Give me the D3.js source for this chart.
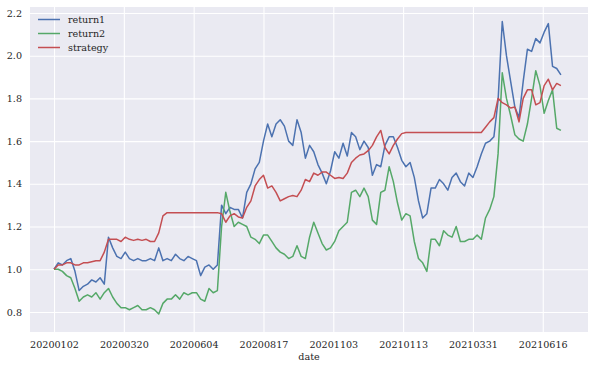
<!DOCTYPE html>
<html>
<head>
<meta charset="utf-8">
<script src="https://cdn.jsdelivr.net/npm/d3@7"></script>
<style>
    body { margin: 0; background: #ffffff; }
    svg { display: block; font-family: "DejaVu Serif", serif; }
</style>
</head>
<body>
<svg width="595" height="370"></svg>
<script>
// x 轴刻度（交易日序号 -> 日期）
const tickDates = ["20200102", "20200320", "20200604", "20200817", "20201103", "20210113", "20210331", "20210616"];
const tickIndex = [0, 50, 100, 150, 200, 250, 300, 350];
const yTicks = [0.8, 1.0, 1.2, 1.4, 1.6, 1.8, 2.0, 2.2];

// 每隔3个交易日读一个值
const step = 3;

const return1 = [
    1.00, 1.03, 1.02, 1.04, 1.05, 0.99, 0.90, 0.92, 0.93, 0.95,
    0.94, 0.96, 0.93, 1.15, 1.10, 1.06, 1.05, 1.08, 1.05, 1.04,
    1.05, 1.04, 1.04, 1.05, 1.04, 1.10, 1.04, 1.05, 1.04, 1.07,
    1.05, 1.04, 1.06, 1.05, 1.04, 0.97, 1.01, 1.02, 1.00, 1.02,
    1.30, 1.26, 1.29, 1.28, 1.28, 1.24, 1.36, 1.40, 1.47, 1.50,
    1.60, 1.68, 1.62, 1.68, 1.70, 1.67, 1.60, 1.58, 1.70, 1.64,
    1.52, 1.58, 1.55, 1.49, 1.45, 1.40, 1.46, 1.55, 1.52, 1.59,
    1.53, 1.64, 1.62, 1.56, 1.60, 1.57, 1.44, 1.49, 1.48, 1.58,
    1.62, 1.62, 1.57, 1.51, 1.48, 1.50, 1.43, 1.32, 1.24, 1.26,
    1.38, 1.38, 1.42, 1.40, 1.37, 1.43, 1.45, 1.41, 1.39, 1.45,
    1.43, 1.48, 1.54, 1.59, 1.60, 1.62, 1.79, 2.16, 2.00, 1.88,
    1.76, 1.71, 1.88, 2.03, 2.02, 2.08, 2.06, 2.11, 2.15, 1.95,
    1.94, 1.91
];

const return2 = [
    1.00, 1.00, 0.99, 0.97, 0.96, 0.91, 0.85, 0.87, 0.88, 0.87,
    0.89, 0.86, 0.89, 0.91, 0.87, 0.84, 0.82, 0.82, 0.81, 0.82,
    0.83, 0.81, 0.81, 0.82, 0.81, 0.79, 0.84, 0.86, 0.86, 0.88,
    0.86, 0.89, 0.88, 0.89, 0.89, 0.86, 0.85, 0.91, 0.89, 0.90,
    1.20, 1.36, 1.27, 1.20, 1.22, 1.21, 1.20, 1.15, 1.14, 1.12,
    1.16, 1.16, 1.13, 1.10, 1.08, 1.07, 1.05, 1.06, 1.11, 1.06,
    1.05, 1.15, 1.22, 1.17, 1.12, 1.09, 1.10, 1.13, 1.18, 1.20,
    1.22, 1.36, 1.37, 1.34, 1.38, 1.34, 1.23, 1.21, 1.36, 1.37,
    1.48, 1.41, 1.31, 1.23, 1.26, 1.25, 1.13, 1.05, 1.03, 0.99,
    1.14, 1.14, 1.11, 1.18, 1.16, 1.15, 1.20, 1.13, 1.13, 1.14,
    1.14, 1.16, 1.14, 1.24, 1.28, 1.34, 1.54, 1.92, 1.80, 1.72,
    1.63, 1.61, 1.60, 1.68, 1.80, 1.93, 1.86, 1.73, 1.79, 1.84,
    1.66, 1.65
];

const strategy = [
    1.00, 1.02, 1.02, 1.03, 1.03, 1.02, 1.02, 1.03, 1.03, 1.035,
    1.04, 1.04, 1.08, 1.14, 1.14, 1.14, 1.13, 1.15, 1.14, 1.135,
    1.14, 1.135, 1.14, 1.13, 1.13, 1.17, 1.25, 1.265, 1.265, 1.265,
    1.265, 1.265, 1.265, 1.265, 1.265, 1.265, 1.265, 1.265, 1.265, 1.265,
    1.26, 1.22, 1.25, 1.26, 1.245, 1.24, 1.29, 1.32, 1.39, 1.42,
    1.44, 1.38, 1.39, 1.36, 1.32, 1.33, 1.34, 1.345, 1.34, 1.37,
    1.42, 1.41, 1.45, 1.44, 1.455, 1.455, 1.44, 1.425, 1.43, 1.425,
    1.45, 1.50, 1.52, 1.535, 1.54, 1.555, 1.58, 1.62, 1.65, 1.57,
    1.54, 1.58, 1.61, 1.635, 1.64, 1.64, 1.64, 1.64, 1.64, 1.64,
    1.64, 1.64, 1.64, 1.64, 1.64, 1.64, 1.64, 1.64, 1.64, 1.64,
    1.64, 1.64, 1.64, 1.665, 1.69, 1.71, 1.80, 1.78, 1.77, 1.755,
    1.76, 1.69, 1.80, 1.84, 1.84, 1.77, 1.78, 1.86, 1.89, 1.84,
    1.87, 1.86
];

const seriesNames = ["return1", "return2", "strategy"];
const seriesColors = ["#4C72B0", "#55A868", "#C44E52"];

function drawChart() {
    const svg = d3.select("svg");
    const left = 30, right = 588, top = 7, bottom = 332;

    const x = d3.scaleLinear().domain([-17.2, 382.4]).range([left, right]);
    const y = d3.scaleLinear().domain([0.706, 2.228]).range([bottom, top]);

    // 灰色背景
    svg.append("rect")
        .attr("x", left)
        .attr("y", top)
        .attr("width", right - left)
        .attr("height", bottom - top)
        .attr("fill", "#EAEAF2");

    const xAxis = svg.append("g")
        .attr("transform", `translate(0,${bottom})`)
        .call(d3.axisBottom(x)
            .tickValues(tickIndex)
            .tickFormat((d, i) => tickDates[i])
            .tickSize(-(bottom - top))
            .tickPadding(9));

    const yAxis = svg.append("g")
        .attr("transform", `translate(${left},0)`)
        .call(d3.axisLeft(y)
            .tickValues(yTicks)
            .tickFormat(d3.format(".1f"))
            .tickSize(-(right - left))
            .tickPadding(8));

    for (const g of [xAxis, yAxis]) {
        g.select(".domain").remove();
        g.selectAll(".tick line").attr("stroke", "#ffffff").attr("stroke-width", 1.1);
        g.selectAll(".tick text")
            .attr("fill", "#262626")
            .style("font-size", "9.6px")
            .style("font-family", "DejaVu Serif, serif");
    }

    svg.append("text")
        .attr("x", (left + right) / 2)
        .attr("y", 360)
        .attr("text-anchor", "middle")
        .attr("fill", "#262626")
        .style("font-size", "9.6px")
        .text("date");

    const allSeries = [return1, return2, strategy];
    const line = d3.line()
        .x((d, i) => x(i * step))
        .y(d => y(d));

    svg.append("g")
        .selectAll("path")
        .data(allSeries)
        .join("path")
        .attr("fill", "none")
        .attr("stroke", (d, i) => seriesColors[i])
        .attr("stroke-width", 1.5)
        .attr("stroke-linejoin", "round")
        .attr("d", line);

    // 图例
    const legend = svg.append("g")
        .selectAll("g")
        .data(seriesNames)
        .join("g")
        .attr("transform", (d, i) => `translate(38,${19.5 + i * 14})`);

    legend.append("line")
        .attr("x1", 0)
        .attr("x2", 22)
        .attr("stroke", (d, i) => seriesColors[i])
        .attr("stroke-width", 1.5);

    legend.append("text")
        .attr("x", 30)
        .attr("dy", "0.35em")
        .attr("fill", "#262626")
        .style("font-size", "9.6px")
        .text(d => d);
}

drawChart();
</script>
</body>
</html>
